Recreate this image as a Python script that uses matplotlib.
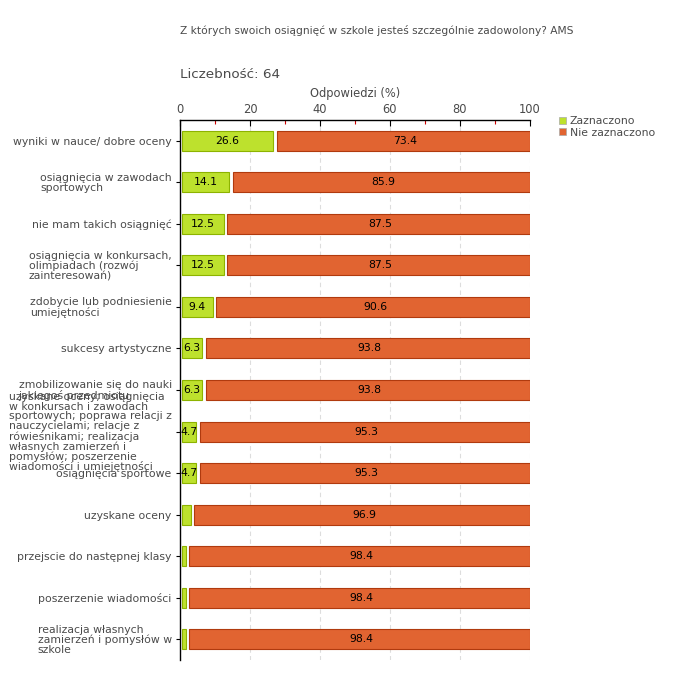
import numpy as np
import matplotlib.pyplot as plt
from matplotlib.patches import Patch

# categories (top to bottom)
categories = [
    "wyniki w nauce/ dobre oceny",
    "osiągnięcia w zawodach\nsportowych",
    "nie mam takich osiągnięć",
    "osiągnięcia w konkursach,\nolimpiadach (rozwój\nzainteresowań)",
    "zdobycie lub podniesienie\numiejętności",
    "sukcesy artystyczne",
    "zmobilizowanie się do nauki\njakiegoś przedmiotu",
    "uzyskane oceny; osiągnięcia\nw konkursach i zawodach\nsportowych; poprawa relacji z\nnauczycielami; relacje z\nrówieśnikami; realizacja\nwłasnych zamierzeń i\npomysłów; poszerzenie\nwiadomości i umiejętności",
    "osiągnięcia sportowe",
    "uzyskane oceny",
    "przejscie do następnej klasy",
    "poszerzenie wiadomości",
    "realizacja własnych\nzamierzeń i pomysłów w\nszkole",
]
zaznaczono = [26.6, 14.1, 12.5, 12.5, 9.4, 6.3, 6.3, 4.7, 4.7, 3.1, 1.6, 1.6, 1.6]
nie_zaznaczono = [73.4, 85.9, 87.5, 87.5, 90.6, 93.8, 93.8, 95.3, 95.3, 96.9, 98.4, 98.4, 98.4]

green = "#bde12d"
green_edge = "#8db300"
orange = "#e16431"
orange_edge = "#b03a0e"
text_col = "#4a4a4a"

plt.rcParams['font.family'] = ['DejaVu Sans']

fig = plt.figure(figsize=(6.8, 6.8), dpi=100)
ax = fig.add_axes([180 / 680, 20 / 680, 350 / 680, 540 / 680])

y = np.arange(len(categories))
gap = 1.0
pad = 0.5
ax.barh(y, np.array(zaznaczono) - pad, left=pad, height=0.48, color=green,
        edgecolor=green_edge, linewidth=0.8, zorder=3)
ax.barh(y, np.array(nie_zaznaczono) - gap, left=np.array(zaznaczono) + gap, height=0.48,
        color=orange, edgecolor=orange_edge, linewidth=0.8, zorder=3)

for i in range(len(categories)):
    if zaznaczono[i] >= 4:
        ax.text((zaznaczono[i] + pad) / 2, y[i], f"{zaznaczono[i]:.1f}", ha='center',
                va='center', fontsize=7.8, color='black', zorder=4)
    ax.text(zaznaczono[i] + gap + nie_zaznaczono[i] / 2, y[i], f"{nie_zaznaczono[i]:.1f}",
            ha='center', va='center', fontsize=7.8, color='black', zorder=4)

ax.set_xlim(0, 100)
ax.set_ylim(len(categories) - 0.5, -0.5)

ax.set_yticks(y)
ax.set_yticklabels(categories, fontsize=7.8, color=text_col, multialignment='left',
                   linespacing=0.95)
ax.tick_params(axis='y', length=3, width=0.8, pad=3)

ax.xaxis.tick_top()
ax.xaxis.set_label_position('top')
ax.set_xticks([0, 20, 40, 60, 80, 100])
ax.set_xticks([10, 30, 50, 70, 90], minor=True)
ax.tick_params(axis='x', which='major', length=4, width=0.8, labelsize=8.3,
               labelcolor=text_col, direction='in', pad=3)
ax.tick_params(axis='x', which='minor', length=3, width=0.8, color='#cc0000', direction='in')
ax.set_xlabel("Odpowiedzi (%)", fontsize=8.3, color=text_col, labelpad=4)
ax.grid(axis='x', which='major', color='#dddddd', linewidth=0.8, linestyle=(0, (4, 3)),
        zorder=0)

for s in ['right', 'bottom']:
    ax.spines[s].set_visible(False)
ax.spines['left'].set_linewidth(1.0)
ax.spines['top'].set_linewidth(1.0)

fig.text(180 / 680, 1 - 30 / 680, "Z których swoich osiągnięć w szkole jesteś szczególnie zadowolony? AMS",
         fontsize=7.7, color=text_col, va='center')
fig.text(180 / 680, 1 - 75 / 680, "Liczebność: 64", fontsize=9.7, color=text_col, va='center')

# legend
handles = [Patch(facecolor=green, edgecolor='#aaaaaa', linewidth=0.5),
           Patch(facecolor=orange, edgecolor='#aaaaaa', linewidth=0.5)]
leg = fig.legend(handles, ["Zaznaczono", "Nie zaznaczono"], loc='upper left',
                 bbox_to_anchor=(559 / 680, 1 - 116 / 680), frameon=False, fontsize=7.8,
                 handlelength=0.6, handleheight=0.6, handletextpad=0.4, labelspacing=0.15,
                 borderaxespad=0, borderpad=0)
for t in leg.get_texts():
    t.set_color(text_col)

fig.savefig("out.png", dpi=100)
